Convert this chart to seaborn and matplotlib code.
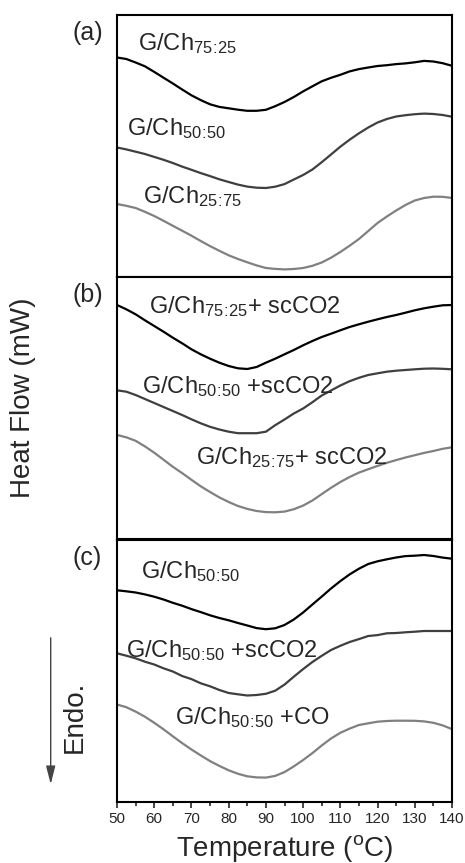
import matplotlib
matplotlib.use("Agg")
import matplotlib.pyplot as plt
import seaborn as sns
import pandas as pd

# Temperature grid (deg C) shared by all traces
temperature = [50, 52.5, 55, 57.5, 60, 62.5, 65, 67.5, 70, 72.5,
               75, 77.5, 80, 82.5, 85, 87.5, 90, 92.5, 95, 97.5,
               100, 102.5, 105, 107.5, 110, 112.5, 115, 117.5, 120, 122.5,
               125, 127.5, 130, 132.5, 135, 137.5, 140]

# Heat flow traces (arbitrary offset units)
a_7525 = [219.5, 218.0, 214.5, 210.7, 205.1, 199.3, 193.5, 187.5, 181.7, 176.9,
          172.7, 170.1, 168.7, 167.3, 166.2, 166.2, 167.2, 170.8, 175.0, 180.0,
          185.6, 190.7, 195.7, 199.2, 202.2, 205.6, 207.9, 209.5, 211.0, 211.8,
          212.9, 213.6, 214.7, 216.1, 215.5, 213.8, 211.2]
a_5050 = [129.5, 127.6, 125.3, 123.0, 120.1, 117.2, 114.0, 110.4, 107.2, 103.9,
          100.9, 97.7, 95.0, 92.4, 90.4, 89.3, 89.0, 90.3, 92.9, 97.5,
          102.0, 107.5, 114.8, 122.5, 130.3, 137.3, 143.7, 149.5, 154.5, 158.0,
          160.5, 161.8, 162.8, 163.4, 163.0, 162.0, 160.3]
a_2575 = [73.0, 71.2, 69.0, 65.2, 61.0, 56.2, 51.2, 46.3, 41.3, 36.0,
          30.9, 26.2, 21.7, 18.0, 14.7, 11.6, 9.0, 8.1, 7.6, 8.0,
          9.0, 11.2, 14.5, 19.3, 25.0, 31.3, 38.0, 46.0, 54.0, 60.5,
          66.5, 72.0, 76.5, 79.0, 80.3, 80.2, 79.0]

b_7525 = [234.0, 229.7, 224.7, 218.7, 213.0, 207.3, 201.3, 195.7, 189.7, 184.7,
          180.3, 176.3, 173.0, 170.7, 170.0, 172.0, 176.3, 180.3, 184.7, 189.0,
          193.7, 198.0, 202.0, 205.3, 208.7, 212.0, 214.7, 217.3, 219.7, 222.0,
          224.0, 226.3, 228.7, 230.7, 232.3, 233.7, 234.0]
b_5050 = [148.7, 147.3, 144.0, 140.0, 136.0, 132.0, 128.0, 124.0, 119.7, 115.7,
          112.2, 109.5, 107.3, 105.8, 105.8, 105.8, 107.3, 113.8, 119.5, 125.5,
          130.5, 136.8, 143.5, 148.5, 153.5, 157.8, 161.2, 164.0, 165.7, 167.3,
          168.3, 169.0, 169.7, 170.3, 170.5, 170.2, 169.7]
b_2575 = [104.0, 101.7, 98.2, 92.6, 86.3, 79.3, 72.2, 65.9, 59.2, 52.7,
          47.0, 41.6, 37.0, 33.0, 30.1, 28.0, 26.9, 26.7, 27.4, 29.8,
          33.4, 38.5, 44.9, 51.2, 57.0, 62.0, 66.4, 69.8, 73.1, 76.2,
          78.9, 81.5, 83.8, 86.1, 88.0, 90.2, 91.7]

c_5050 = [211.7, 210.7, 209.5, 207.6, 205.3, 202.5, 199.2, 196.3, 192.9, 189.9,
          186.7, 184.0, 181.7, 179.0, 176.5, 173.9, 172.8, 173.7, 177.0, 182.5,
          189.5, 197.5, 205.4, 213.5, 220.9, 227.6, 233.3, 238.0, 240.7, 242.7,
          244.5, 245.9, 246.3, 247.0, 246.0, 244.4, 243.3]
c_5050_sc = [148.7, 146.3, 143.7, 140.3, 137.5, 133.7, 130.5, 126.0, 122.9, 118.7,
             115.7, 112.0, 109.0, 107.7, 106.5, 107.0, 108.2, 111.3, 117.4, 125.3,
             132.9, 140.0, 146.2, 152.0, 156.2, 160.0, 162.9, 166.0, 166.9, 168.7,
             169.0, 169.7, 170.3, 171.0, 171.0, 171.0, 171.0]
c_5050_co = [97.5, 94.8, 90.4, 85.3, 79.2, 72.7, 65.7, 58.9, 52.5, 46.6,
             40.9, 36.1, 31.7, 28.2, 25.7, 24.6, 24.4, 26.1, 29.9, 35.6,
             42.0, 48.9, 56.5, 63.5, 69.2, 73.4, 77.0, 78.7, 80.3, 81.0,
             81.3, 81.3, 81.2, 80.6, 79.2, 76.6, 72.9]

panel_tags = ["(a)", "(b)", "(c)"]
panel_series = [[a_7525, a_5050, a_2575],
                [b_7525, b_5050, b_2575],
                [c_5050, c_5050_sc, c_5050_co]]
s7525 = r"$_{75\!:\!25}$"
s5050 = r"$_{50\!:\!50}$"
s2575 = r"$_{25\!:\!75}$"
panel_labels = [
    ["G/Ch" + s7525, "G/Ch" + s5050, "G/Ch" + s2575],
    ["G/Ch" + s7525 + "+ scCO2", "G/Ch" + s5050 + " +scCO2", "G/Ch" + s2575 + "+ scCO2"],
    ["G/Ch" + s5050, "G/Ch" + s5050 + " +scCO2", "G/Ch" + s5050 + " +CO"],
]
# label anchor (temperature, heat flow) for each trace
label_pos = [
    [(55.6, 227), (52.7, 142), (57.0, 74)],
    [(58.6, 226), (56.7, 146), (71.2, 75)],
    [(56.4, 224), (52.4, 145), (65.6, 78)],
]
line_colors = ["#000000", "#3f3f3f", "#808080"]

sns.set_style("white")
plt.rcParams["font.family"] = ["Liberation Sans", "DejaVu Sans"]
plt.rcParams["mathtext.fontset"] = "custom"
plt.rcParams["mathtext.rm"] = "Liberation Sans"
plt.rcParams["mathtext.it"] = "Liberation Sans:italic"
plt.rcParams["mathtext.default"] = "regular"

W, H = 465, 863
fig = plt.figure(figsize=(W / 100, H / 100), dpi=100)

left = 117 / W
width = (452 - 117) / W
tops = [15, 277, 540]
ph = 262

axes = []
for i in range(3):
    ax = fig.add_axes([left, 1 - (tops[i] + ph) / H, width, ph / H])
    axes.append(ax)
    df = pd.DataFrame({"T": temperature * 3,
                       "hf": sum(panel_series[i], []),
                       "s": sum([[k] * len(temperature) for k in range(3)], [])})
    sns.lineplot(data=df, x="T", y="hf", hue="s", palette=line_colors,
                 linewidth=1.6, legend=False, ax=ax)
    for k in range(3):
        tx, ty = label_pos[i][k]
        ax.text(tx, ty, panel_labels[i][k], fontsize=17, ha="left", va="baseline")
    ax.set_xlim(50, 140)
    ax.set_ylim(0, 262)
    ax.set_yticks([])
    ax.set_xlabel("")
    ax.set_ylabel("")
    for sp in ax.spines.values():
        sp.set_linewidth(1.5)
        sp.set_color("black")
    fig.text(73 / W, 1 - (tops[i] + 18) / H, panel_tags[i], fontsize=18,
             ha="left", va="center")

for ax in axes[:2]:
    ax.set_xticks([])

axc = axes[2]
axc.set_xticks(range(50, 141, 10))
axc.set_xticks(range(55, 140, 10), minor=True)
axc.tick_params(axis="x", which="major", direction="out", length=4, width=1.2,
                labelsize=11, pad=3, bottom=True)
axc.tick_params(axis="x", which="minor", direction="out", length=3, width=1.2,
                bottom=True)

fig.text(23.5 / W, 1 - 397.5 / H, "Heat Flow (mW)", rotation=90, fontsize=20,
         ha="center", va="center")
fig.text(285 / W, 1 - 848 / H, "Temperature ($^{o}$C)", fontsize=20,
         ha="center", va="center")
fig.text(75 / W, 1 - 717 / H, "Endo.", rotation=90, fontsize=20,
         ha="center", va="center")
axc.annotate("", xy=(50.7 / W, 1 - 787 / H), xytext=(50.7 / W, 1 - 635 / H),
             xycoords="figure fraction", textcoords="figure fraction",
             arrowprops=dict(arrowstyle="-|>,head_length=1.1,head_width=0.28",
                             mutation_scale=10, color="#444444", lw=1.0),
             annotation_clip=False)

fig.savefig("out.png", dpi=100)
